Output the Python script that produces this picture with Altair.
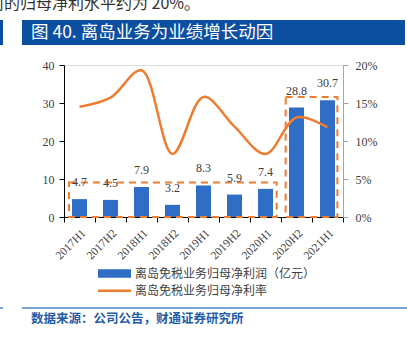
import altair as alt
import pandas as pd

# ---- data ----
periods = ["2017H1", "2017H2", "2018H1", "2018H2", "2019H1", "2019H2", "2020H1", "2020H2", "2021H1"]
profit = [4.7, 4.5, 7.9, 3.2, 8.3, 5.9, 7.4, 28.8, 30.7]           # 亿元
margin = [0.145, 0.157, 0.193, 0.083, 0.158, 0.119, 0.083, 0.131, 0.118]

# highlight boxes (index range of periods, top value on left axis)
box_x0 = [-0.34, 6.65]
box_x1 = [6.36, 8.32]
box_top = [9.1, 31.6]

top_text = "司的归母净利水平约为 20%。"
title_text = "图 40. 离岛业务为业绩增长动因"
legend_labels = ["离岛免税业务归母净利润（亿元）", "离岛免税业务归母净利率"]
source_text = "数据来源：公司公告，财通证券研究所"

BLUE = "#2F6EC4"
ORANGE = "#ED7D31"
SERIF = "Liberation Serif"
CJK = "Noto Sans CJK SC"

df = pd.DataFrame({"period": periods, "profit": profit, "margin": margin})
boxes = pd.DataFrame({"x0": box_x0, "x1": box_x1, "top": box_top, "bottom": [0, 0]})

W, H = 279, 152

x_band = alt.X("period:N", sort=periods, title=None,
               scale=alt.Scale(type="band", paddingInner=0, paddingOuter=0),
               axis=alt.Axis(labelAngle=-45, tickBand="extent", tickSize=5, tickColor="#000",
                             domainColor="#000", labelFont=SERIF, labelFontSize=11.5,
                             labelColor="#404040", labelPadding=5, grid=False))
x_point = alt.X("period:N", sort=periods, title=None,
                scale=alt.Scale(type="point", padding=0.5), axis=None)

y_left = alt.Scale(domain=[0, 40])

base = alt.Chart(df)

bars = base.mark_bar(color=BLUE, size=15).encode(
    x=x_band,
    y=alt.Y("profit:Q", scale=y_left, title=None,
            axis=alt.Axis(values=[0, 10, 20, 30, 40], tickSize=5, tickColor="#000",
                          domainColor="#000", labelFont=SERIF, labelFontSize=12,
                          labelColor="#404040", labelPadding=5, grid=False)),
)

labels = base.mark_text(font=SERIF, fontSize=12, color="#404040", baseline="alphabetic", dy=-13).encode(
    x=x_point,
    y=alt.Y("profit:Q", scale=y_left, axis=None),
    text=alt.Text("profit:Q", format=".1f"),
)

line = base.mark_line(color=ORANGE, strokeWidth=2.5, interpolate="catmull-rom").encode(
    x=x_point,
    y=alt.Y("margin:Q", scale=alt.Scale(domain=[0, 0.2]), title=None,
            axis=alt.Axis(orient="right", format=".0%", values=[0, 0.05, 0.1, 0.15, 0.2],
                          tickSize=5, tickColor="#A6A6A6", domainColor="#A6A6A6",
                          labelFont=SERIF, labelFontSize=12, labelColor="#404040",
                          labelPadding=7, grid=False)),
)

box_layer = alt.Chart(boxes).mark_rect(fill=None, stroke=ORANGE, strokeWidth=2, strokeDash=[7, 5]).encode(
    x=alt.X("x0:Q", scale=alt.Scale(domain=[-0.5, 8.5], nice=False, zero=False), axis=None),
    x2="x1:Q",
    y=alt.Y("bottom:Q", scale=y_left, axis=None),
    y2="top:Q",
)

one = pd.DataFrame({"t": [0]})

def rect(x0, x1, y0, y1, color):
    return alt.Chart(one).mark_rect(color=color).encode(
        x=alt.value(x0), x2=alt.value(x1), y=alt.value(y0), y2=alt.value(y1))

def rule(x0, x1, y, color, w):
    return alt.Chart(one).mark_rule(color=color, strokeWidth=w).encode(
        x=alt.value(x0), x2=alt.value(x1), y=alt.value(y))

def text(s, x, y, **kw):
    return alt.Chart(pd.DataFrame({"s": [s]})).mark_text(align="left", baseline="middle", **kw).encode(
        x=alt.value(x), y=alt.value(y), text="s:N")

TITLE_BLUE = "#0C4E9F"
deco = [
    text(top_text, -76, -61, font=CJK, fontSize=16, color="#333333"),
    rect(-64, -61, -45, -20, TITLE_BLUE),
    rect(-42, 341, -45, -20, TITLE_BLUE),
    text(title_text, -33, -32.5, font=CJK, fontSize=17.5, color="#FFFFFF"),
    rect(34, 67, 204.3, 212.7, BLUE),
    text(legend_labels[0], 71, 208.5, font=CJK, fontSize=12, color="#404040"),
    rule(34, 67, 225.7, ORANGE, 2.5),
    text(legend_labels[1], 71, 225.7, font=CJK, fontSize=12, color="#404040"),
    rule(-64, -61, 243, "#4F84C4", 1.5),
    rule(-42, 343, 243, "#4F84C4", 1.5),
    text(source_text, -33, 253.5, font=CJK, fontSize=12.5, fontWeight="bold", color="#1F5BA6"),
]

chart = alt.layer(bars, box_layer, labels, line, *deco).resolve_scale(
    x="independent", y="independent"
).properties(
    width=W, height=H,
    padding={"left": 64, "top": 65, "right": 64, "bottom": 125},
    autosize=alt.AutoSizeParams(type="none"),
).configure_view(stroke=None).configure(background="white")

chart.save("out.html", embed_options={"renderer": "svg", "actions": False})
